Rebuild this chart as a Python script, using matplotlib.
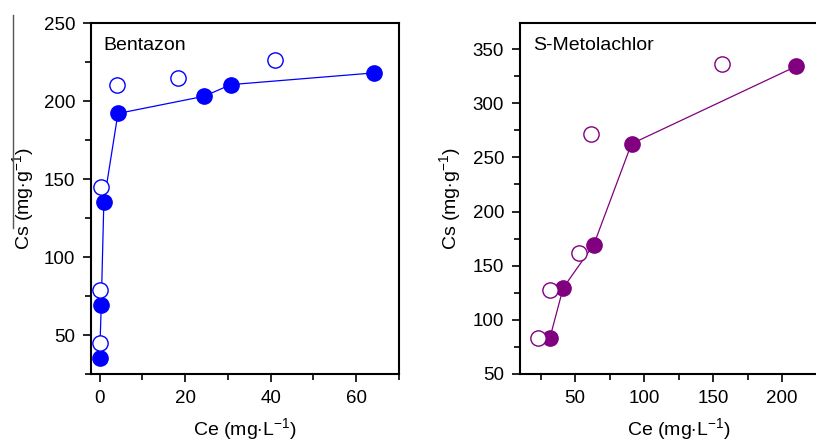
import matplotlib
matplotlib.use("Agg")
import matplotlib.pyplot as plt
from matplotlib.ticker import MultipleLocator
from matplotlib.lines import Line2D

plt.rcParams['font.family'] = ['Liberation Sans', 'DejaVu Sans']
plt.rcParams['mathtext.fontset'] = 'custom'
plt.rcParams['mathtext.rm'] = 'Liberation Sans'

# Bentazon
bent_ce_filled = [0.0, 0.4, 1.0, 4.3, 24.4, 30.7, 64.1]
bent_cs_filled = [35, 69, 135, 192, 203, 210.5, 218]
bent_ce_open = [0.2, 0.2, 0.4, 4.0, 18.3, 41.0]
bent_cs_open = [45, 79, 145, 210.5, 215, 226]

# S-Metolachlor
meto_ce_filled = [31.6, 41.3, 63.5, 90.8, 210.1]
meto_cs_filled = [83, 129.5, 169.5, 262.5, 334]
meto_ce_open = [23.2, 31.6, 52.6, 61.6, 156.2]
meto_cs_open = [83, 128, 161.5, 271.5, 336]

blue = '#0000ff'
purple = '#800080'

fig = plt.figure(figsize=(8.16, 4.43), dpi=100)
W, H = 816, 443
ax1 = fig.add_axes([91 / W, 1 - 374 / H, (399 - 91) / W, (374 - 23) / H])
ax2 = fig.add_axes([520 / W, 1 - 374 / H, 317.4 / W, (374 - 23) / H])

def style(ax):
    for s in ax.spines.values():
        s.set_linewidth(1.5)
    ax.tick_params(which='both', direction='out', labelsize=13.5, width=1.2, pad=6)
    ax.tick_params(which='major', length=5.5)
    ax.tick_params(which='minor', length=4)

ax1.plot(bent_ce_filled, bent_cs_filled, '-', color=blue, lw=0.9, zorder=2)
ax1.plot(bent_ce_filled, bent_cs_filled, 'o', color=blue, ms=11, mec=blue, zorder=3)
ax1.plot(bent_ce_open, bent_cs_open, 'o', mfc='white', mec=blue, ms=11, mew=1.0, zorder=3)
ax1.set_xlim(-2, 70)
ax1.set_ylim(25, 250)
ax1.xaxis.set_major_locator(MultipleLocator(20))
ax1.xaxis.set_minor_locator(MultipleLocator(10))
ax1.yaxis.set_major_locator(MultipleLocator(50))
ax1.yaxis.set_minor_locator(MultipleLocator(25))
style(ax1)
ax1.set_xlabel('Ce (mg$\\cdot$L$^{-1}$)', fontsize=14, labelpad=7)
ax1.set_ylabel('Cs (mg$\\cdot$g$^{-1}$)', fontsize=14, labelpad=5)
ax1.text(0.04, 0.96, 'Bentazon', transform=ax1.transAxes, fontsize=14, va='top', ha='left')

ax2.plot(meto_ce_filled, meto_cs_filled, '-', color=purple, lw=0.9, zorder=2)
ax2.plot(meto_ce_filled, meto_cs_filled, 'o', color=purple, ms=11, mec=purple, zorder=3)
ax2.plot(meto_ce_open, meto_cs_open, 'o', mfc='white', mec=purple, ms=11, mew=1.0, zorder=3)
ax2.set_xlim(10, 240)
ax2.set_ylim(50, 374)
ax2.xaxis.set_major_locator(MultipleLocator(50))
ax2.xaxis.set_minor_locator(MultipleLocator(25))
ax2.yaxis.set_major_locator(MultipleLocator(50))
ax2.yaxis.set_minor_locator(MultipleLocator(25))
style(ax2)
ax2.set_xlabel('Ce (mg$\\cdot$L$^{-1}$)', fontsize=14, labelpad=7)
ax2.set_ylabel('Cs (mg$\\cdot$g$^{-1}$)', fontsize=14, labelpad=6)
ax2.text(0.04, 0.96, 'S-Metolachlor', transform=ax2.transAxes, fontsize=14, va='top', ha='left')

# thin vertical rule artifact at the far left
fig.add_artist(Line2D([13 / W, 13 / W], [1 - 15 / H, 1 - 228 / H], color='#555555', lw=1.0))

fig.savefig('out.png', dpi=100)
